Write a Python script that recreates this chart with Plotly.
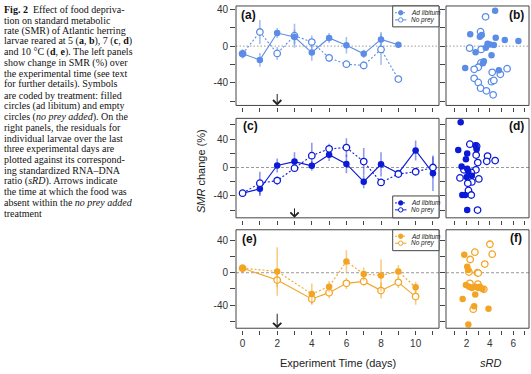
import plotly.graph_objects as go

W, H = 531, 374

# ---------------- data ----------------
# Panel (a) 5 degC
days_a = [0, 1, 2, 3, 4, 5, 6, 7, 8, 9]
a_adlib = [-8.4, -15, 14.2, 9.9, -7, 8.8, 1, -8.4, 7.3, 1.5]
a_adlib_err = [5, 7.5, 5.5, 8, 9, 5.5, 9, 4.5, 8, 3]
a_noprey = [-8.4, 15.3, -8, 11.3, 4.4, -12.8, -19.7, -21, -3.6, -35.8]
a_noprey_err = [0, 13, 7, 13, 7, 4.5, 2, 4.5, 17, 3]

# Panel (c) 7 degC
days_c = [0, 1, 2, 3, 4, 5, 6, 7, 8, 9, 10, 11]
c_adlib = [-36, -30, 2.8, 8.3, 2.3, 18, 5, -20, 4.5, -8, 24, -8]
c_adlib_err = [0, 10, 10, 13, 7, 9, 13, 9, 17, 5, 14, 25]
c_noprey = [-36, -22, -18.4, -0.9, 16.6, 26.2, 28, 8.3, -21, -9.2, -6, 0]
c_noprey_err = [2, 16, 6, 5, 18, 7, 13, 19, 4, 4, 4, 15]

# Panel (e) 10 degC
days_e = [0, 2, 4, 5, 6, 7, 8, 9, 10]
e_adlib = [5.7, 1.6, -26.3, -17.2, 14, -1.6, -3.3, 1.6, -18]
e_adlib_err = [0, 30, 13, 7, 14, 8, 20, 8, 7]
e_noprey = [5.7, -9, -32.4, -24.6, -13.1, -10.7, -22, -11.9, -29.5]
e_noprey_err = [0, 9, 7, 7, 7, 5, 10, 7, 10]

# Panel (b) residuals vs sRD
b_adlib_srd = [4.45, 2.31, 3.14, 3.3, 4.5, 5.28, 6.45, 3.8, 4.0, 4.34, 3.65, 2.77, 4.14, 3.48, 3.4, 1.88, 4.77]
b_adlib_res = [38.4, 12.8, 10.2, 12, 9.1, 6.6, 5.5, 2.6, 1.8, 1.1, -1.8, -6.6, -9.9, -16.4, -18.6, -23.7, -26.3]
b_noprey_srd = [3.63, 3.2, 2.26, 3.25, 3.23, 3.0, 2.65, 4.2, 4.9, 5.48, 2.65, 3.0, 3.2, 3.7, 4.14, 4.34, 4.28]
b_noprey_res = [31.8, 15.7, -2.2, -3.6, -18.3, -23, -25.2, -28.5, -30.7, -24.5, -35, -39.5, -45.7, -48.6, -38.7, -37.3, -53]

# Panel (d)
d_adlib_srd = [1.49, 2.77, 2.86, 1.28, 2.05, 1.94, 1.57, 2.05, 2.14, 2.0, 2.45, 1.63, 1.88, 2.05]
d_adlib_res = [63.4, 31.3, 25.7, 24.4, 19.8, 11.5, 1.4, -1.8, -5.5, -13.3, -11.5, -38.6, -38.6, -59.8]
d_noprey_srd = [2.28, 2.86, 2.82, 3.8, 4.45, 3.73, 2.96, 1.77, 2.8, 2.4, 1.43, 3.05, 2.45, 2.1, 2.16, 2.4, 2.94]
d_noprey_res = [32.7, 29.9, 17.5, 16.1, 9.7, 8.7, 6.9, -3.2, -3.2, -6.9, -14.7, -16.1, -20.3, -22.1, -32.2, -38.6, -59.8]

# Panel (f)
f_adlib_srd = [1.8, 2.05, 2.15, 1.94, 2.22, 2.45, 2.77, 3.03, 3.14, 3.37, 2.74, 1.66, 2.65, 3.88, 2.15]
f_adlib_res = [22.2, 7.4, 3.3, -15.2, -17.2, -18.9, -17.2, -18.9, -17.2, -20.1, -27, -32.4, -41.4, -44.7, -64]
f_noprey_srd = [4.0, 4.2, 2.71, 2.31, 3.56, 2.2, 2.93, 3.0, 2.28, 2.97, 3.48, 2.57]
f_noprey_res = [35.3, 23, 25.5, 16.4, 10.7, 0.8, 0, -0.4, -13.1, -14, -20.5, -45.1]

y_tickvals = [-60, -40, -20, 0, 20, 40, 60]
y_ticktext = ["", "-40", "", "0", "", "40", ""]
day_tickvals = list(range(12))
day_ticktext = ["0", "", "2", "", "4", "", "6", "", "8", "", "10", ""]
srd_tickvals = [1, 2, 3, 4, 5, 6, 7]
srd_ticktext = ["", "2", "", "4", "", "6", ""]

caption_lines = [
    "<b>Fig. 2</b>  Effect of food depriva-",
    "tion on standard metabolic",
    "rate (SMR) of Atlantic herring",
    "larvae reared at 5 (<b>a</b>, <b>b</b>), 7 (<b>c</b>, <b>d</b>)",
    "and 10 °C (<b>d</b>, <b>e</b>). The left panels",
    "show change in SMR (%) over",
    "the experimental time (see text",
    "for further details). Symbols",
    "are coded by treatment: filled",
    "circles (ad libitum) and empty",
    "circles (<i>no prey added</i>). On the",
    "right panels, the residuals for",
    "individual larvae over the last",
    "three experimental days are",
    "plotted against its correspond-",
    "ing standardized RNA–DNA",
    "ratio (<i>sRD</i>). Arrows indicate",
    "the time at which the food was",
    "absent within the <i>no prey added</i>",
    "treatment",
]

# ---------------- styling ----------------
COL = {"a": "#5B8CE6", "c": "#0B1AD6", "e": "#F4A424"}
ERR = {"a": "rgba(91,140,230,0.55)", "c": "rgba(11,26,214,0.45)", "e": "rgba(244,164,36,0.55)"}
AX = "#444444"
FONT = "Liberation Sans"
DOT = "2px,2px"

def px_x(p):
    return p / W

def px_y(p):
    return 1 - p / H

LEFT = (236, 439)
RIGHT = (446, 529)
ROWS = [(4, 104), (117, 217), (229, 328)]
YR = [(-64.5, 43.6), (-70.7, 69), (-68.7, 53.2)]
XR_DAYS = (-0.38, 11.35)
XR_SRD = (0.23, 7.36)

fig = go.Figure()
layout = dict(
    width=W, height=H, margin=dict(l=0, r=0, t=0, b=0),
    plot_bgcolor="white", paper_bgcolor="white", showlegend=False,
    font=dict(family=FONT, size=9, color="#333333"),
)
shapes = []
annotations = []

def axname(i):
    return "" if i == 1 else str(i)

for r, (top, bot) in enumerate(ROWS):
    for c, (l, rr) in enumerate([LEFT, RIGHT]):
        i = r * 2 + c + 1
        s = axname(i)
        bottom_row = (r == 2)
        if c == 0:
            tv, tt, xr = day_tickvals, day_ticktext, XR_DAYS
        else:
            tv, tt, xr = srd_tickvals, srd_ticktext, XR_SRD
        layout["xaxis" + s] = dict(
            domain=[px_x(l), px_x(rr)], range=list(xr), anchor="free",
            position=px_y(bot + 2), tickvals=tv,
            ticktext=tt if bottom_row else [""] * len(tv),
            ticks="outside", ticklen=4, tickcolor=AX, tickwidth=1,
            showline=False, showgrid=False, zeroline=False,
            tickfont=dict(size=10, color="#333333"),
        )
        layout["yaxis" + s] = dict(
            domain=[px_y(bot), px_y(top)], range=list(YR[r]), anchor="x" + s,
            tickvals=y_tickvals,
            ticktext=y_ticktext if c == 0 else [""] * len(y_tickvals),
            ticks="outside", ticklen=5, tickcolor=AX, tickwidth=1,
            showline=False, showgrid=False, zeroline=False,
            tickfont=dict(size=10, color="#333333"),
        )
        shapes.append(dict(type="rect", xref="x%s domain" % s, yref="y%s domain" % s,
                           x0=0, x1=1, y0=0, y1=1, line=dict(color=AX, width=1),
                           layer="above"))
        shapes.append(dict(type="line", xref="x%s domain" % s, yref="y" + s,
                           x0=0, x1=1, y0=0, y1=0,
                           line=dict(color="#9a9a9a", width=1,
                                     dash="1.5px,2px" if r == 0 else "3px,2px"),
                           layer="below"))

def series(i, x, y, err, key, filled, dash):
    s = axname(i)
    col = COL[key]
    if filled:
        marker = dict(symbol="circle", size=6.5, color=col, line=dict(width=0))
    else:
        marker = dict(symbol="circle", size=6.5, color="white", line=dict(color=col, width=1.3))
    fig.add_trace(go.Scatter(
        x=x, y=y, mode="lines+markers", xaxis="x" + s, yaxis="y" + s,
        line=dict(color=col, width=1.1, dash=dash), marker=marker,
        error_y=dict(type="data", array=err, visible=True, color=ERR[key],
                     thickness=1.6, width=0),
        hoverinfo="skip",
    ))

def scatter(i, x, y, key, filled):
    s = axname(i)
    col = COL[key]
    if filled:
        marker = dict(symbol="circle", size=6.5, color=col, line=dict(width=0))
    else:
        marker = dict(symbol="circle", size=6.5, color="white", line=dict(color=col, width=1.3))
    fig.add_trace(go.Scatter(x=x, y=y, mode="markers", xaxis="x" + s, yaxis="y" + s,
                             marker=marker, hoverinfo="skip"))

# (a)
series(1, days_a, a_noprey, a_noprey_err, "a", False, DOT)
series(1, days_a, a_adlib, a_adlib_err, "a", True, "solid")
# (c)
series(3, days_c, c_adlib, c_adlib_err, "c", True, "solid")
series(3, days_c, c_noprey, c_noprey_err, "c", False, DOT)
# (e)
series(5, days_e, e_noprey, e_noprey_err, "e", False, "solid")
series(5, days_e, e_adlib, e_adlib_err, "e", True, DOT)
# right panels
scatter(2, b_noprey_srd, b_noprey_res, "a", False)
scatter(2, b_adlib_srd, b_adlib_res, "a", True)
scatter(4, d_noprey_srd, d_noprey_res, "c", False)
scatter(4, d_adlib_srd, d_adlib_res, "c", True)
scatter(6, f_noprey_srd, f_noprey_res, "e", False)
scatter(6, f_adlib_srd, f_adlib_res, "e", True)

# panel letters
for lab, xp, yp, anchor in [("(a)", 239, 12.7, "left"), ("(c)", 240.5, 125, "left"),
                            ("(e)", 240, 238.3, "left"), ("(b)", 526, 12.7, "right"),
                            ("(d)", 526, 124.5, "right"), ("(f)", 524, 237.5, "right")]:
    annotations.append(dict(text="<b>%s</b>" % lab, xref="paper", yref="paper",
                            x=px_x(xp), y=px_y(yp), xanchor=anchor, yanchor="middle",
                            showarrow=False, font=dict(family=FONT, size=12, color="#111111")))

# arrows marking food removal
for s, xd, yb, L in [("", 2, YR[0][0], 13), ("3", 3, YR[1][0], 11), ("5", 2, YR[2][0], 16)]:
    annotations.append(dict(text="", xref="x" + s, yref="y" + s, x=xd, y=yb,
                            ax=0, ay=-L, showarrow=True, arrowhead=4, arrowsize=1.6,
                            arrowwidth=1, arrowcolor="#222222", standoff=0))

# manual legends
def legend(key, top, bottom, rows):
    col = COL[key]
    l, rr = 392.7, 439
    shapes.append(dict(type="rect", xref="paper", yref="paper",
                       x0=px_x(l), x1=px_x(rr), y0=px_y(bottom), y1=px_y(top),
                       line=dict(color=AX, width=1), fillcolor="white", layer="above"))
    for yrow, lbl, filled, dash in [(rows[0], "Ad libitum", True, DOT),
                                    (rows[1], "No prey", False, "solid")]:
        shapes.append(dict(type="line", xref="paper", yref="paper",
                           x0=px_x(395), x1=px_x(406.5), y0=px_y(yrow), y1=px_y(yrow),
                           line=dict(color=col, width=1, dash=dash), layer="above"))
        shapes.append(dict(type="circle", xref="paper", yref="paper",
                           xsizemode="pixel", ysizemode="pixel",
                           xanchor=px_x(400.7), yanchor=px_y(yrow),
                           x0=-2.2, x1=2.2, y0=-2.2, y1=2.2,
                           fillcolor=col if filled else "white",
                           line=dict(color=col, width=1), layer="above"))
        annotations.append(dict(text="<i>%s</i>" % lbl, xref="paper", yref="paper",
                                x=px_x(409), y=px_y(yrow), xanchor="left", yanchor="middle",
                                showarrow=False, font=dict(family=FONT, size=6.5, color="#222222")))

legend("a", 4, 25, (10.8, 18))
legend("c", 195, 217, (202, 209))
legend("e", 229, 250, (235.5, 242.5))

# axis titles
annotations.append(dict(text="<i>SMR</i> change (%)", xref="paper", yref="paper",
                        x=px_x(201), y=px_y(170), textangle=-90, showarrow=False,
                        xanchor="center", yanchor="middle",
                        font=dict(family=FONT, size=11, color="#222222")))
annotations.append(dict(text="Experiment Time (days)", xref="paper", yref="paper",
                        x=px_x(338), y=px_y(363), showarrow=False,
                        xanchor="center", yanchor="middle",
                        font=dict(family=FONT, size=11, color="#222222")))
annotations.append(dict(text="<i>sRD</i>", xref="paper", yref="paper",
                        x=px_x(490), y=px_y(363), showarrow=False,
                        xanchor="center", yanchor="middle",
                        font=dict(family=FONT, size=11, color="#222222")))

# caption
for k, line in enumerate(caption_lines):
    annotations.append(dict(text=line, xref="paper", yref="paper",
                            x=px_x(2), y=px_y(7.3 + k * 10.8), xanchor="left", yanchor="middle",
                            showarrow=False,
                            font=dict(family="Liberation Serif", size=10, color="#111111")))

layout["shapes"] = shapes
layout["annotations"] = annotations
fig.update_layout(**layout)

fig.write_html("out.html", config={"displayModeBar": False},
               post_script="document.body.style.margin='0';")
